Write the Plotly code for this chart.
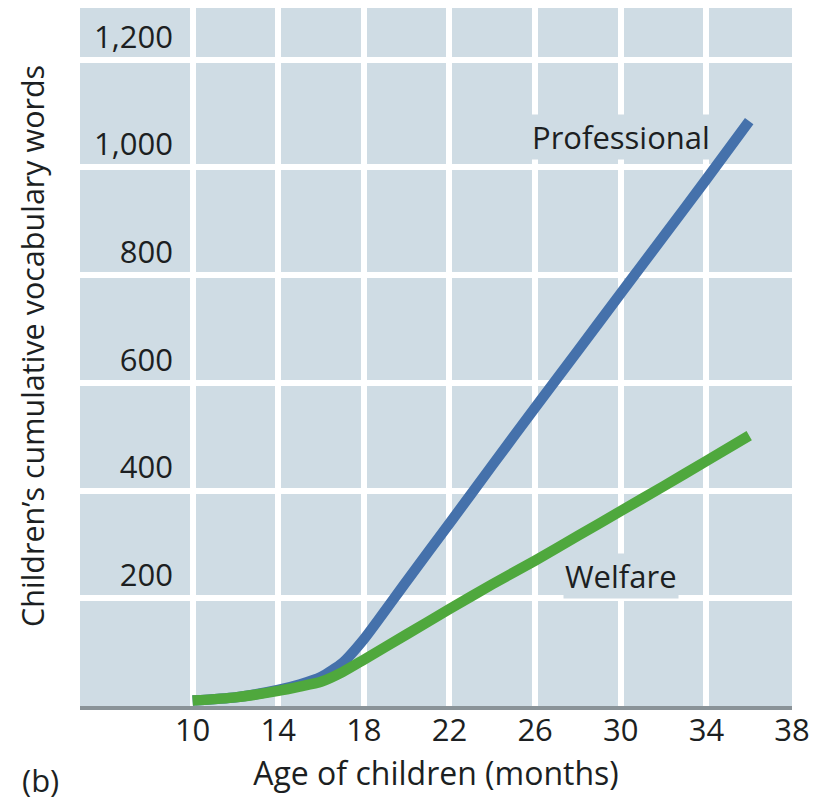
import plotly.graph_objects as go

# ---- data ----
months = [10, 12, 14, 15, 16, 17, 18, 20, 22, 24, 26, 28, 30, 32, 34, 36]
professional = [10, 16, 30, 40, 54, 80, 124, 232, 339, 447, 554, 660, 766, 872, 978, 1086]
welfare = [10, 16, 28, 36, 45, 63, 86, 133, 180, 226, 270, 316, 362, 408, 455, 502]

x_ticks = [10, 14, 18, 22, 26, 30, 34, 38]
x_tick_labels = ["10", "14", "18", "22", "26", "30", "34", "38"]
y_ticks = [200, 400, 600, 800, 1000, 1200]
y_tick_labels = ["200", "400", "600", "800", "1,000", "1,200"]

series_labels = ["Professional", "Welfare"]
label_pos = [(30, 1056), (30, 241)]

BG = "#cfdce4"
BLUE = "#4571ab"
GREEN = "#4fa83d"
TXT = "#1c1f22"
FONT = "Open Sans"

fig = go.Figure()
fig.add_trace(go.Scatter(x=months, y=professional, mode="lines",
                         line=dict(color=BLUE, width=10.5, shape="spline", smoothing=0.6),
                         name=series_labels[0], showlegend=False, hoverinfo="skip"))
fig.add_trace(go.Scatter(x=months, y=welfare, mode="lines",
                         line=dict(color=GREEN, width=10.5, shape="spline", smoothing=0.6),
                         name=series_labels[1], showlegend=False, hoverinfo="skip"))

for txt, (lx, ly) in zip(series_labels, label_pos):
    fig.add_annotation(x=lx, y=ly, xref="x", yref="y", text=txt, showarrow=False,
                       font=dict(family=FONT, size=31, color=TXT),
                       bgcolor=BG, borderpad=1, xanchor="center", yanchor="middle")

fig.add_annotation(x=-0.0674, y=0.5158, xref="paper", yref="paper",
                   text="Children’s cumulative vocabulary words", textangle=-90,
                   showarrow=False, font=dict(family=FONT, size=30.5, color=TXT),
                   xanchor="center", yanchor="middle")
fig.add_annotation(x=-0.0843, y=-0.106, xref="paper", yref="paper",
                   text="(b)", showarrow=False, font=dict(family=FONT, size=31, color=TXT),
                   xanchor="left", yanchor="middle")

fig.update_layout(
    width=822, height=803,
    margin=dict(l=80, r=30, t=8, b=97),
    paper_bgcolor="white", plot_bgcolor=BG,
    font=dict(family=FONT, color=TXT),
    xaxis=dict(range=[4.74, 38], tickvals=x_ticks, ticktext=x_tick_labels,
               showgrid=True, gridcolor="white", gridwidth=6, zeroline=False,
               showline=True, linecolor="#8a9398", linewidth=4, ticks="",
               tickfont=dict(family=FONT, size=31, color=TXT), ticklabelstandoff=-6,
               title=dict(text="Age of children (months)", font=dict(family=FONT, size=32, color=TXT),
                          standoff=14)),
    yaxis=dict(range=[0, 1296], tickvals=y_ticks, ticktext=y_tick_labels,
               anchor="free", position=0.1306, side="left",
               showgrid=True, gridcolor="white", gridwidth=6, zeroline=False,
               showline=False, ticks="", ticklabelshift=-23,
               tickfont=dict(family=FONT, size=31, color=TXT)),
)

fig.write_html("out.html", config={"displayModeBar": False},
               post_script="document.body.style.margin='0';document.body.style.padding='0';")
